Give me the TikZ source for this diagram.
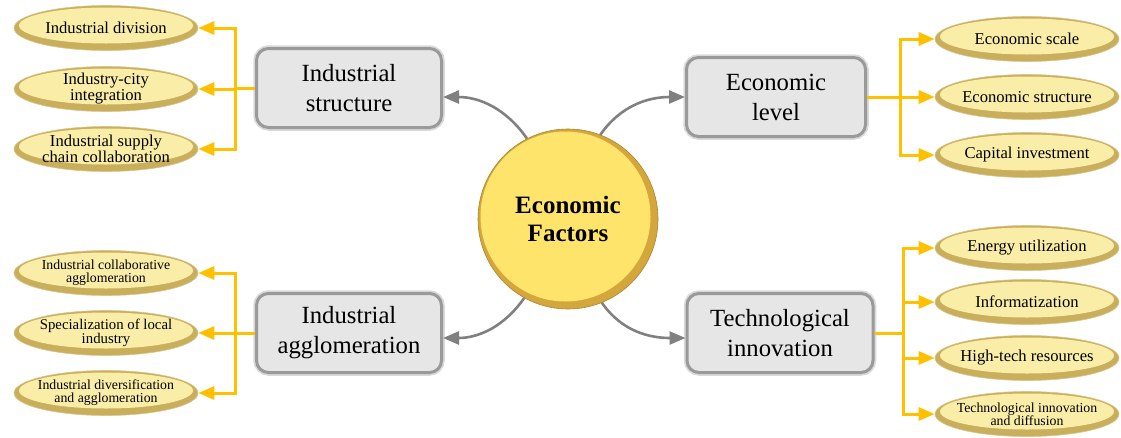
\documentclass[tikz,border=0pt]{standalone}
\usepackage{fontspec}
\setmainfont{Liberation Serif}
\usetikzlibrary{arrows.meta,shapes.geometric,positioning,calc}

\definecolor{linkgold}{HTML}{FFC000}
\definecolor{linkgray}{HTML}{808080}
\definecolor{boxgray}{HTML}{E6E6E6}
\definecolor{rimgray}{HTML}{9A9A9A}
\definecolor{fcin}{HTML}{FFE46C}
\definecolor{fcrim}{HTML}{D4A73C}
\definecolor{lfin}{HTML}{FAEDA8}
\definecolor{lfrim}{HTML}{C9AE5C}

\begin{document}
\begin{tikzpicture}[x=1pt,y=-1pt,
  factor/.style={circle,minimum size=180pt,inner sep=0pt,fill=fcrim,draw=fcrim!80!black,line width=0.6pt,
    path picture={\fill[fcin] ([xshift=-2.5pt,yshift=2.5pt]path picture bounding box.center) circle (85pt);},
    align=center,font=\fontsize{25}{28}\selectfont\bfseries},
  topic/.style={rectangle,rounded corners=12pt,minimum width=185pt,minimum height=79pt,fill=boxgray,draw=rimgray,line width=3pt,preaction={draw=gray!30,line width=6.5pt},align=center,font=\fontsize{24.7}{30}\selectfont},
  leaf/.style={ellipse,minimum width=184pt,minimum height=45pt,inner sep=-15pt,fill=lfrim,draw=lfrim!70,line width=0.6pt,
    path picture={\fill[lfin] ([yshift=2.5pt]path picture bounding box.center) ellipse (87pt and 18pt);},
    align=center,font=\fontsize{16.6}{16}\selectfont},
  leafm/.style={leaf,font=\fontsize{14.8}{14.5}\selectfont},
  leafs/.style={leaf,font=\fontsize{13.8}{13}\selectfont},
  flow/.style={linkgray,line width=2.6pt,-{Triangle[length=16pt,width=13pt]}},
  ylink/.style={linkgold,line width=3pt,-{Triangle[length=16pt,width=13pt]}}
]

\useasboundingbox (0,0) rectangle (1121,437);

\node[factor] (fac) at (568,219) {Economic\\Factors};

\node[topic] (ist) at (349,88) {Industrial\\structure};
\node[topic,minimum width=179pt] (el) at (776,97) {Economic\\level};
\node[topic] (ia) at (349,333) {Industrial\\agglomeration};
\node[topic,minimum width=186pt] (ti) at (780,333) {Technological\\innovation};

\node[leaf] (id) at (106,28) {Industrial division};
\node[leaf] (ici) at (106,89) {Industry-city\\integration};
\node[leaf] (isc) at (106,149) {Industrial supply\\chain collaboration};

\node[leafs] (ica) at (106,273) {Industrial collaborative\\agglomeration};
\node[leafm] (slo) at (106,333) {Specialization of local\\industry};
\node[leafs] (idg) at (106,393) {Industrial diversification\\and agglomeration};

\node[leaf] (esc) at (1027,39) {Economic scale};
\node[leaf] (est) at (1027,97) {Economic structure};
\node[leaf] (cin) at (1027,155) {Capital investment};

\node[leaf] (eu) at (1027,248) {Energy utilization};
\node[leaf] (inf) at (1027,302) {Informatization};
\node[leaf] (hte) at (1027,358) {High-tech resources};
\node[leafs] (tid) at (1027,414) {Technological innovation\\and diffusion};

\coordinate (isbus) at (235,0);
\coordinate (iabus) at (235,0);
\coordinate (elbus) at (900,0);
\coordinate (tibus) at (903,0);

\draw[flow] (fac.117) to[out=125,in=0] ([yshift=-9pt]ist.east);
\draw[flow] (fac.69) to[out=55,in=180] (el.west);
\draw[flow] (fac.241) to[out=235,in=0] ([yshift=-5pt]ia.east);
\draw[flow] (fac.292) to[out=-55,in=180] ([yshift=-5pt]ti.west);

\draw[ylink] (ist.west) -- (ist.west -| isbus) |- (id.east);
\draw[ylink] (ist.west) -- (ist.west -| isbus) |- (ici.east);
\draw[ylink] (ist.west) -- (ist.west -| isbus) |- (isc.east);

\draw[ylink] (ia.west) -- (ia.west -| iabus) |- (ica.east);
\draw[ylink] (ia.west) -- (ia.west -| iabus) |- (slo.east);
\draw[ylink] (ia.west) -- (ia.west -| iabus) |- (idg.east);

\draw[ylink] (el.east) -- (el.east -| elbus) |- (esc.west);
\draw[ylink] (el.east) -- (el.east -| elbus) |- (est.west);
\draw[ylink] (el.east) -- (el.east -| elbus) |- (cin.west);

\draw[ylink] (ti.east) -- (ti.east -| tibus) |- (eu.west);
\draw[ylink] (ti.east) -- (ti.east -| tibus) |- (inf.west);
\draw[ylink] (ti.east) -- (ti.east -| tibus) |- (hte.west);
\draw[ylink] (ti.east) -- (ti.east -| tibus) |- (tid.west);

\end{tikzpicture}
\end{document}
